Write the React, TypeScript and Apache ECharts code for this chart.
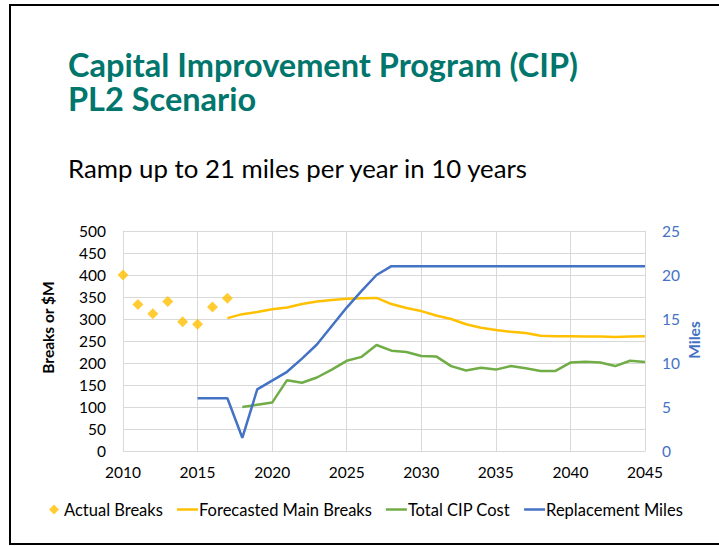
import React, { useEffect, useRef } from "react";
import * as echarts from "echarts";

const titleLines = ["Capital Improvement Program (CIP)", "PL2 Scenario"];
const subtitleText = "Ramp up to 21 miles per year in 10 years";
const leftAxisName = "Breaks or $M";
const rightAxisName = "Miles";

const actualYears = [2010, 2011, 2012, 2013, 2014, 2015, 2016, 2017];
const actualBreaks = [400, 333, 312, 340, 294, 288, 327, 347];

const forecastYears = [
  2017, 2018, 2019, 2020, 2021, 2022, 2023, 2024, 2025, 2026, 2027, 2028, 2029, 2030, 2031,
  2032, 2033, 2034, 2035, 2036, 2037, 2038, 2039, 2040, 2041, 2042, 2043, 2044, 2045,
];
const forecastBreaks = [
  302, 311, 316, 322, 326, 334, 340, 343, 346, 347, 348, 334, 325, 318, 308,
  300, 288, 280, 275, 271, 268, 262, 261, 261, 260, 260, 259, 260, 261,
];

const cipYears = [
  2018, 2019, 2020, 2021, 2022, 2023, 2024, 2025, 2026, 2027, 2028, 2029, 2030, 2031, 2032,
  2033, 2034, 2035, 2036, 2037, 2038, 2039, 2040, 2041, 2042, 2043, 2044, 2045,
];
const cipCost = [
  100, 105, 110, 161, 155, 167, 185, 205, 214, 241, 228, 225, 216, 215, 193,
  183, 189, 185, 193, 188, 182, 182, 201, 203, 201, 193, 205, 202,
];

const milesYears = [
  2015, 2016, 2017, 2018, 2019, 2020, 2021, 2022, 2023, 2024, 2025, 2026, 2027, 2028, 2029, 2030,
  2031, 2032, 2033, 2034, 2035, 2036, 2037, 2038, 2039, 2040, 2041, 2042, 2043, 2044, 2045,
];
const replacementMiles = [
  6, 6, 6, 1.5, 7, 8, 9, 10.5, 12.1, 14.2, 16.3, 18.2, 20, 21, 21, 21,
  21, 21, 21, 21, 21, 21, 21, 21, 21, 21, 21, 21, 21, 21, 21,
];

const seriesNames = ["Actual Breaks", "Forecasted Main Breaks", "Total CIP Cost", "Replacement Miles"];

const zip = (xs: number[], ys: number[]) => xs.map((x, i) => [x, ys[i]]);

const FONT = "Lato, 'Open Sans', sans-serif";
const YELLOW = "#FFC000";
const GREEN = "#70AD47";
const BLUE = "#4472C4";
const GRID = "#D9D9D9";
const TEAL = "#00766C";

export default function App() {
  const ref = useRef<HTMLDivElement>(null);

  useEffect(() => {
    if (!ref.current) return;
    const chart = echarts.init(ref.current, null, { renderer: "svg" });
    const titleStyle = {
      fontFamily: FONT,
      fontSize: 32.5,
      fontWeight: "bold",
      color: TEAL,
      lineHeight: 32,
    };
    const legendText = { fontFamily: FONT, fontSize: 16.5, color: "#000000", padding: [0, 0, 0, -4] };
    chart.setOption({
      animation: false,
      backgroundColor: "#ffffff",
      textStyle: { fontFamily: FONT },
      title: [
        { text: titleLines[0], left: 68, top: 48.5, padding: 0, textStyle: titleStyle },
        { text: titleLines[1], left: 68, top: 82, padding: 0, textStyle: titleStyle },
        {
          text: subtitleText,
          left: 68,
          top: 152.5,
          padding: 0,
          textStyle: {
            fontFamily: FONT,
            fontSize: 25.8,
            fontWeight: "normal",
            color: "#000000",
            lineHeight: 30,
          },
        },
      ],
      grid: { left: 123, top: 231, width: 522, height: 220, containLabel: false },
      legend: [
        {
          left: 49,
          top: 501,
          padding: 0,
          itemWidth: 10,
          itemHeight: 10,
          data: [{ name: seriesNames[0], icon: "diamond" }],
          textStyle: { fontFamily: FONT, fontSize: 16.5, color: "#000000" },
        },
        {
          left: 177,
          top: 501,
          padding: 0,
          itemWidth: 21,
          itemHeight: 2.5,
          itemGap: 14,
          data: [
            { name: seriesNames[1], icon: "rect" },
            { name: seriesNames[2], icon: "rect" },
            { name: seriesNames[3], icon: "rect" },
          ],
          textStyle: legendText,
        },
      ],
      xAxis: {
        type: "value",
        min: 2010,
        max: 2045,
        interval: 5,
        axisLine: { show: true, lineStyle: { color: GRID, width: 1 } },
        axisTick: { show: false },
        axisLabel: {
          color: "#000000",
          fontSize: 15.5,
          fontFamily: FONT,
          margin: 13,
          formatter: (v: number) => String(v),
        },
        splitLine: { show: true, lineStyle: { color: GRID, width: 1 } },
      },
      yAxis: [
        {
          type: "value",
          min: 0,
          max: 500,
          interval: 50,
          position: "left",
          axisLine: { show: true, lineStyle: { color: GRID, width: 1 } },
          axisTick: { show: false },
          axisLabel: { color: "#000000", fontSize: 15.5, fontFamily: FONT, margin: 17 },
          splitLine: { show: true, lineStyle: { color: GRID, width: 1 } },
        },
        {
          type: "value",
          min: 0,
          max: 25,
          interval: 5,
          position: "right",
          axisLine: { show: true, lineStyle: { color: GRID, width: 1 } },
          axisTick: { show: false },
          axisLabel: { color: BLUE, fontSize: 15.5, fontFamily: FONT, margin: 17 },
          splitLine: { show: false },
        },
      ],
      series: [
        {
          name: seriesNames[0],
          type: "scatter",
          symbol: "diamond",
          symbolSize: 11,
          itemStyle: { color: YELLOW },
          data: zip(actualYears, actualBreaks),
        },
        {
          name: seriesNames[1],
          type: "line",
          symbol: "none",
          showSymbol: false,
          lineStyle: { color: YELLOW, width: 2.5 },
          itemStyle: { color: YELLOW },
          data: zip(forecastYears, forecastBreaks),
        },
        {
          name: seriesNames[2],
          type: "line",
          symbol: "none",
          showSymbol: false,
          lineStyle: { color: GREEN, width: 2.5 },
          itemStyle: { color: GREEN },
          data: zip(cipYears, cipCost),
        },
        {
          name: seriesNames[3],
          type: "line",
          yAxisIndex: 1,
          symbol: "none",
          showSymbol: false,
          lineStyle: { color: BLUE, width: 2.5 },
          itemStyle: { color: BLUE },
          data: zip(milesYears, replacementMiles),
        },
      ],
      graphic: [
        {
          type: "polyline",
          silent: true,
          shape: { points: [[719, 5], [10, 5], [10, 544], [719, 544]] },
          style: { stroke: "#000000", lineWidth: 2, fill: "none" },
        },
        {
          type: "text",
          x: 47.5,
          y: 327.5,
          rotation: Math.PI / 2,
          style: {
            text: leftAxisName,
            fontFamily: FONT,
            fontSize: 15.5,
            fontWeight: "bold",
            fill: "#000000",
            align: "center",
            verticalAlign: "middle",
          },
        },
        {
          type: "text",
          x: 694,
          y: 340,
          rotation: Math.PI / 2,
          style: {
            text: rightAxisName,
            fontFamily: FONT,
            fontSize: 15.5,
            fontWeight: "bold",
            fill: BLUE,
            align: "center",
            verticalAlign: "middle",
          },
        },
      ],
    });
    return () => chart.dispose();
  }, []);

  return (
    <div
      ref={ref}
      style={{ position: "absolute", left: 0, top: 0, width: 719, height: 546, background: "#ffffff" }}
    />
  );
}
